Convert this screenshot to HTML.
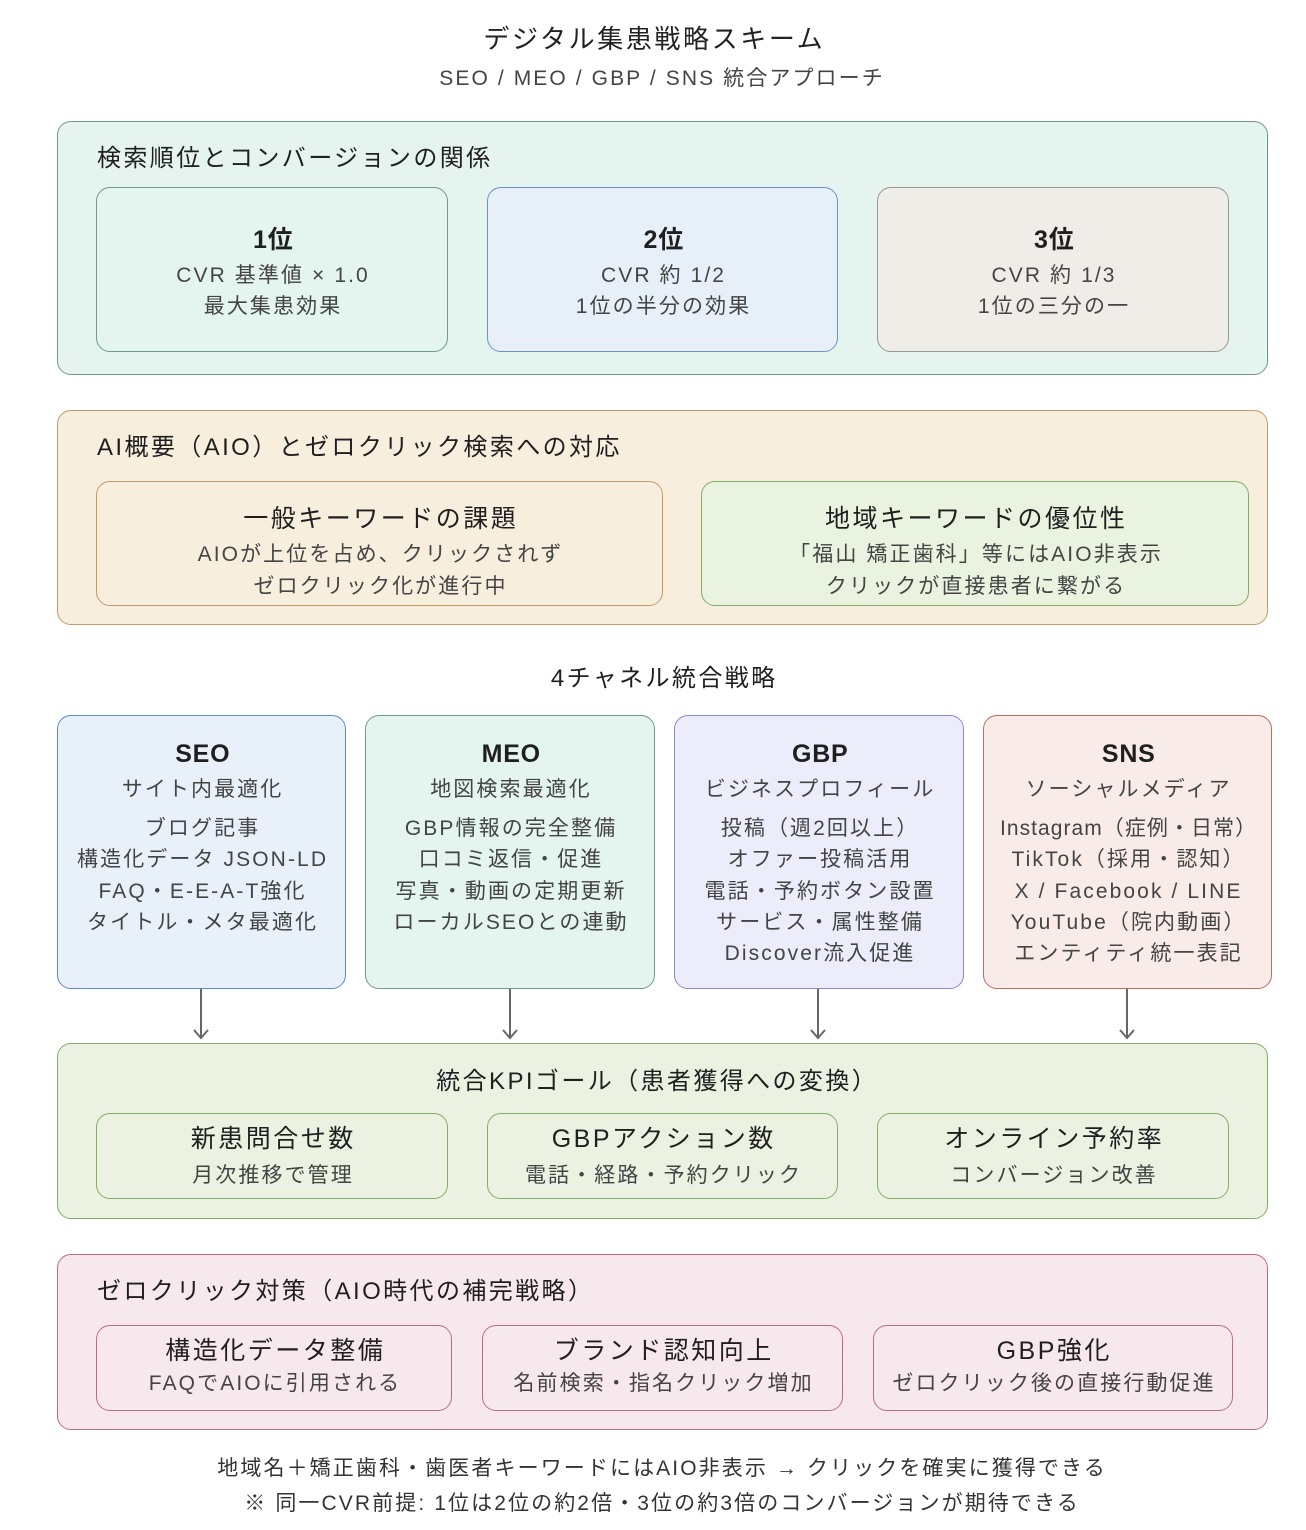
<!DOCTYPE html>
<html><head><meta charset="utf-8"><style>
body{margin:0;width:1306px;height:1530px;background:#fff;position:relative;font-family:"Liberation Sans","Noto Sans CJK JP",sans-serif;color:#222;overflow:hidden}
.b{position:absolute;box-sizing:border-box;border:1.3px solid;border-radius:14px}
.t{position:absolute;height:36px;line-height:36px;white-space:nowrap;text-align:center;letter-spacing:0.1em;text-indent:0.1em}
.h{font-size:24px;color:#1f1f1f}
.s{font-size:21px;color:#444}
.k{font-size:25px;color:#1f1f1f}
.bd{font-weight:bold;letter-spacing:0.03em}
</style></head><body>
<div class="t" style="left:0;width:1306px;top:21px;font-size:26px">デジタル集患戦略スキーム</div>
<div class="t" style="left:0;width:1322px;top:61px;font-size:21px;color:#444">SEO / MEO / GBP / SNS 統合アプローチ</div>

<div class="b" style="left:57px;top:121px;width:1211px;height:254px;background:#e5f4ef;border-color:#6f9c87"></div>
<div class="t h" style="left:97px;top:141px;text-indent:0">検索順位とコンバージョンの関係</div>
<div class="b" style="left:96px;top:187px;width:352px;height:165px;background:#e4f4ee;border-color:#6f9c87"></div>
<div class="b" style="left:487px;top:187px;width:351px;height:165px;background:#e7eff9;border-color:#6d91d0"></div>
<div class="b" style="left:877px;top:187px;width:352px;height:165px;background:#efede8;border-color:#9b968f"></div>
<div class="t k bd" style="left:96px;width:352px;top:222px">1位</div>
<div class="t s" style="left:96px;width:352px;top:258px">CVR 基準値 × 1.0</div>
<div class="t s" style="left:96px;width:352px;top:289px">最大集患効果</div>
<div class="t k bd" style="left:487px;width:351px;top:222px">2位</div>
<div class="t s" style="left:487px;width:351px;top:258px">CVR 約 1/2</div>
<div class="t s" style="left:487px;width:351px;top:289px">1位の半分の効果</div>
<div class="t k bd" style="left:877px;width:352px;top:222px">3位</div>
<div class="t s" style="left:877px;width:352px;top:258px">CVR 約 1/3</div>
<div class="t s" style="left:877px;width:352px;top:289px">1位の三分の一</div>

<div class="b" style="left:57px;top:410px;width:1211px;height:215px;background:#f8eede;border-color:#c49a62"></div>
<div class="t h" style="left:97px;top:430px;text-indent:0">AI概要（AIO）とゼロクリック検索への対応</div>
<div class="b" style="left:96px;top:481px;width:567px;height:125px;background:#f8eede;border-color:#c49a62"></div>
<div class="b" style="left:701px;top:481px;width:548px;height:125px;background:#e9f3df;border-color:#80b064"></div>
<div class="t k" style="left:96px;width:567px;top:501px">一般キーワードの課題</div>
<div class="t s" style="left:96px;width:567px;top:537px">AIOが上位を占め、クリックされず</div>
<div class="t s" style="left:96px;width:567px;top:569px">ゼロクリック化が進行中</div>
<div class="t k" style="left:701px;width:548px;top:501px">地域キーワードの優位性</div>
<div class="t s" style="left:701px;width:548px;top:537px">「福山 矯正歯科」等にはAIO非表示</div>
<div class="t s" style="left:701px;width:548px;top:569px">クリックが直接患者に繋がる</div>

<div class="t h" style="left:0;width:1326px;top:661px">4チャネル統合戦略</div>

<div class="b" style="left:57px;top:715px;width:289px;height:274px;background:#e8f0fa;border-color:#5d88d0"></div>
<div class="b" style="left:365px;top:715px;width:290px;height:274px;background:#e4f4ee;border-color:#6f9c87"></div>
<div class="b" style="left:674px;top:715px;width:290px;height:274px;background:#ececfb;border-color:#8b87d8"></div>
<div class="b" style="left:983px;top:715px;width:289px;height:274px;background:#f8ebe8;border-color:#bf6c58"></div>

<div class="t k bd" style="left:57px;width:289px;top:736px">SEO</div>
<div class="t s" style="left:57px;width:289px;top:772px">サイト内最適化</div>
<div class="t s" style="left:57px;width:289px;top:811px">ブログ記事</div>
<div class="t s" style="left:57px;width:289px;top:842px">構造化データ JSON-LD</div>
<div class="t s" style="left:57px;width:289px;top:874px">FAQ・E-E-A-T強化</div>
<div class="t s" style="left:57px;width:289px;top:905px">タイトル・メタ最適化</div>

<div class="t k bd" style="left:365px;width:290px;top:736px">MEO</div>
<div class="t s" style="left:365px;width:290px;top:772px">地図検索最適化</div>
<div class="t s" style="left:365px;width:290px;top:811px">GBP情報の完全整備</div>
<div class="t s" style="left:365px;width:290px;top:842px">口コミ返信・促進</div>
<div class="t s" style="left:365px;width:290px;top:874px">写真・動画の定期更新</div>
<div class="t s" style="left:365px;width:290px;top:905px">ローカルSEOとの連動</div>

<div class="t k bd" style="left:674px;width:290px;top:736px">GBP</div>
<div class="t s" style="left:674px;width:290px;top:772px">ビジネスプロフィール</div>
<div class="t s" style="left:674px;width:290px;top:811px">投稿（週2回以上）</div>
<div class="t s" style="left:674px;width:290px;top:842px">オファー投稿活用</div>
<div class="t s" style="left:674px;width:290px;top:874px">電話・予約ボタン設置</div>
<div class="t s" style="left:674px;width:290px;top:905px">サービス・属性整備</div>
<div class="t s" style="left:674px;width:290px;top:936px">Discover流入促進</div>

<div class="t k bd" style="left:983px;width:289px;top:736px">SNS</div>
<div class="t s" style="left:983px;width:289px;top:772px">ソーシャルメディア</div>
<div class="t s" style="left:983px;width:289px;top:811px;letter-spacing:0.05em">Instagram（症例・日常）</div>
<div class="t s" style="left:983px;width:289px;top:842px">TikTok（採用・認知）</div>
<div class="t s" style="left:983px;width:289px;top:874px">X / Facebook / LINE</div>
<div class="t s" style="left:983px;width:289px;top:905px">YouTube（院内動画）</div>
<div class="t s" style="left:983px;width:289px;top:936px">エンティティ統一表記</div>

<svg style="position:absolute;left:0;top:0" width="1306" height="1530">
<g stroke="#666" stroke-width="2" fill="none">
<path d="M201 989V1038M194 1030L201 1038L208 1030"/>
<path d="M510 989V1038M503 1030L510 1038L517 1030"/>
<path d="M818 989V1038M811 1030L818 1038L825 1030"/>
<path d="M1127 989V1038M1120 1030L1127 1038L1134 1030"/>
</g></svg>

<div class="b" style="left:57px;top:1043px;width:1211px;height:176px;background:#ebf2e1;border-color:#86ac68"></div>
<div class="t h" style="left:0;width:1312px;top:1064px">統合KPIゴール（患者獲得への変換）</div>
<div class="b" style="left:96px;top:1113px;width:352px;height:86px;background:#ebf2e1;border-color:#86ac68"></div>
<div class="b" style="left:487px;top:1113px;width:351px;height:86px;background:#ebf2e1;border-color:#86ac68"></div>
<div class="b" style="left:877px;top:1113px;width:352px;height:86px;background:#ebf2e1;border-color:#86ac68"></div>
<div class="t k" style="left:96px;width:352px;top:1121px">新患問合せ数</div>
<div class="t s" style="left:96px;width:352px;top:1158px">月次推移で管理</div>
<div class="t k" style="left:487px;width:351px;top:1121px">GBPアクション数</div>
<div class="t s" style="left:487px;width:351px;top:1158px">電話・経路・予約クリック</div>
<div class="t k" style="left:877px;width:352px;top:1121px">オンライン予約率</div>
<div class="t s" style="left:877px;width:352px;top:1158px">コンバージョン改善</div>

<div class="b" style="left:57px;top:1254px;width:1211px;height:176px;background:#f7e8ed;border-color:#bf6a86"></div>
<div class="t h" style="left:97px;top:1274px;text-indent:0">ゼロクリック対策（AIO時代の補完戦略）</div>
<div class="b" style="left:96px;top:1325px;width:356px;height:86px;background:#f7e8ed;border-color:#bf6a86"></div>
<div class="b" style="left:482px;top:1325px;width:361px;height:86px;background:#f7e8ed;border-color:#bf6a86"></div>
<div class="b" style="left:873px;top:1325px;width:360px;height:86px;background:#f7e8ed;border-color:#bf6a86"></div>
<div class="t k" style="left:96px;width:356px;top:1333px">構造化データ整備</div>
<div class="t s" style="left:96px;width:356px;top:1366px">FAQでAIOに引用される</div>
<div class="t k" style="left:482px;width:361px;top:1333px">ブランド認知向上</div>
<div class="t s" style="left:482px;width:361px;top:1366px">名前検索・指名クリック増加</div>
<div class="t k" style="left:873px;width:360px;top:1333px">GBP強化</div>
<div class="t s" style="left:873px;width:360px;top:1366px">ゼロクリック後の直接行動促進</div>

<div class="t s" style="left:0;width:1322px;top:1451px;color:#333">地域名＋矯正歯科・歯医者キーワードにはAIO非表示 → クリックを確実に獲得できる</div>
<div class="t s" style="left:0;width:1322px;top:1486px;color:#333">※ 同一CVR前提: 1位は2位の約2倍・3位の約3倍のコンバージョンが期待できる</div>
</body></html>
